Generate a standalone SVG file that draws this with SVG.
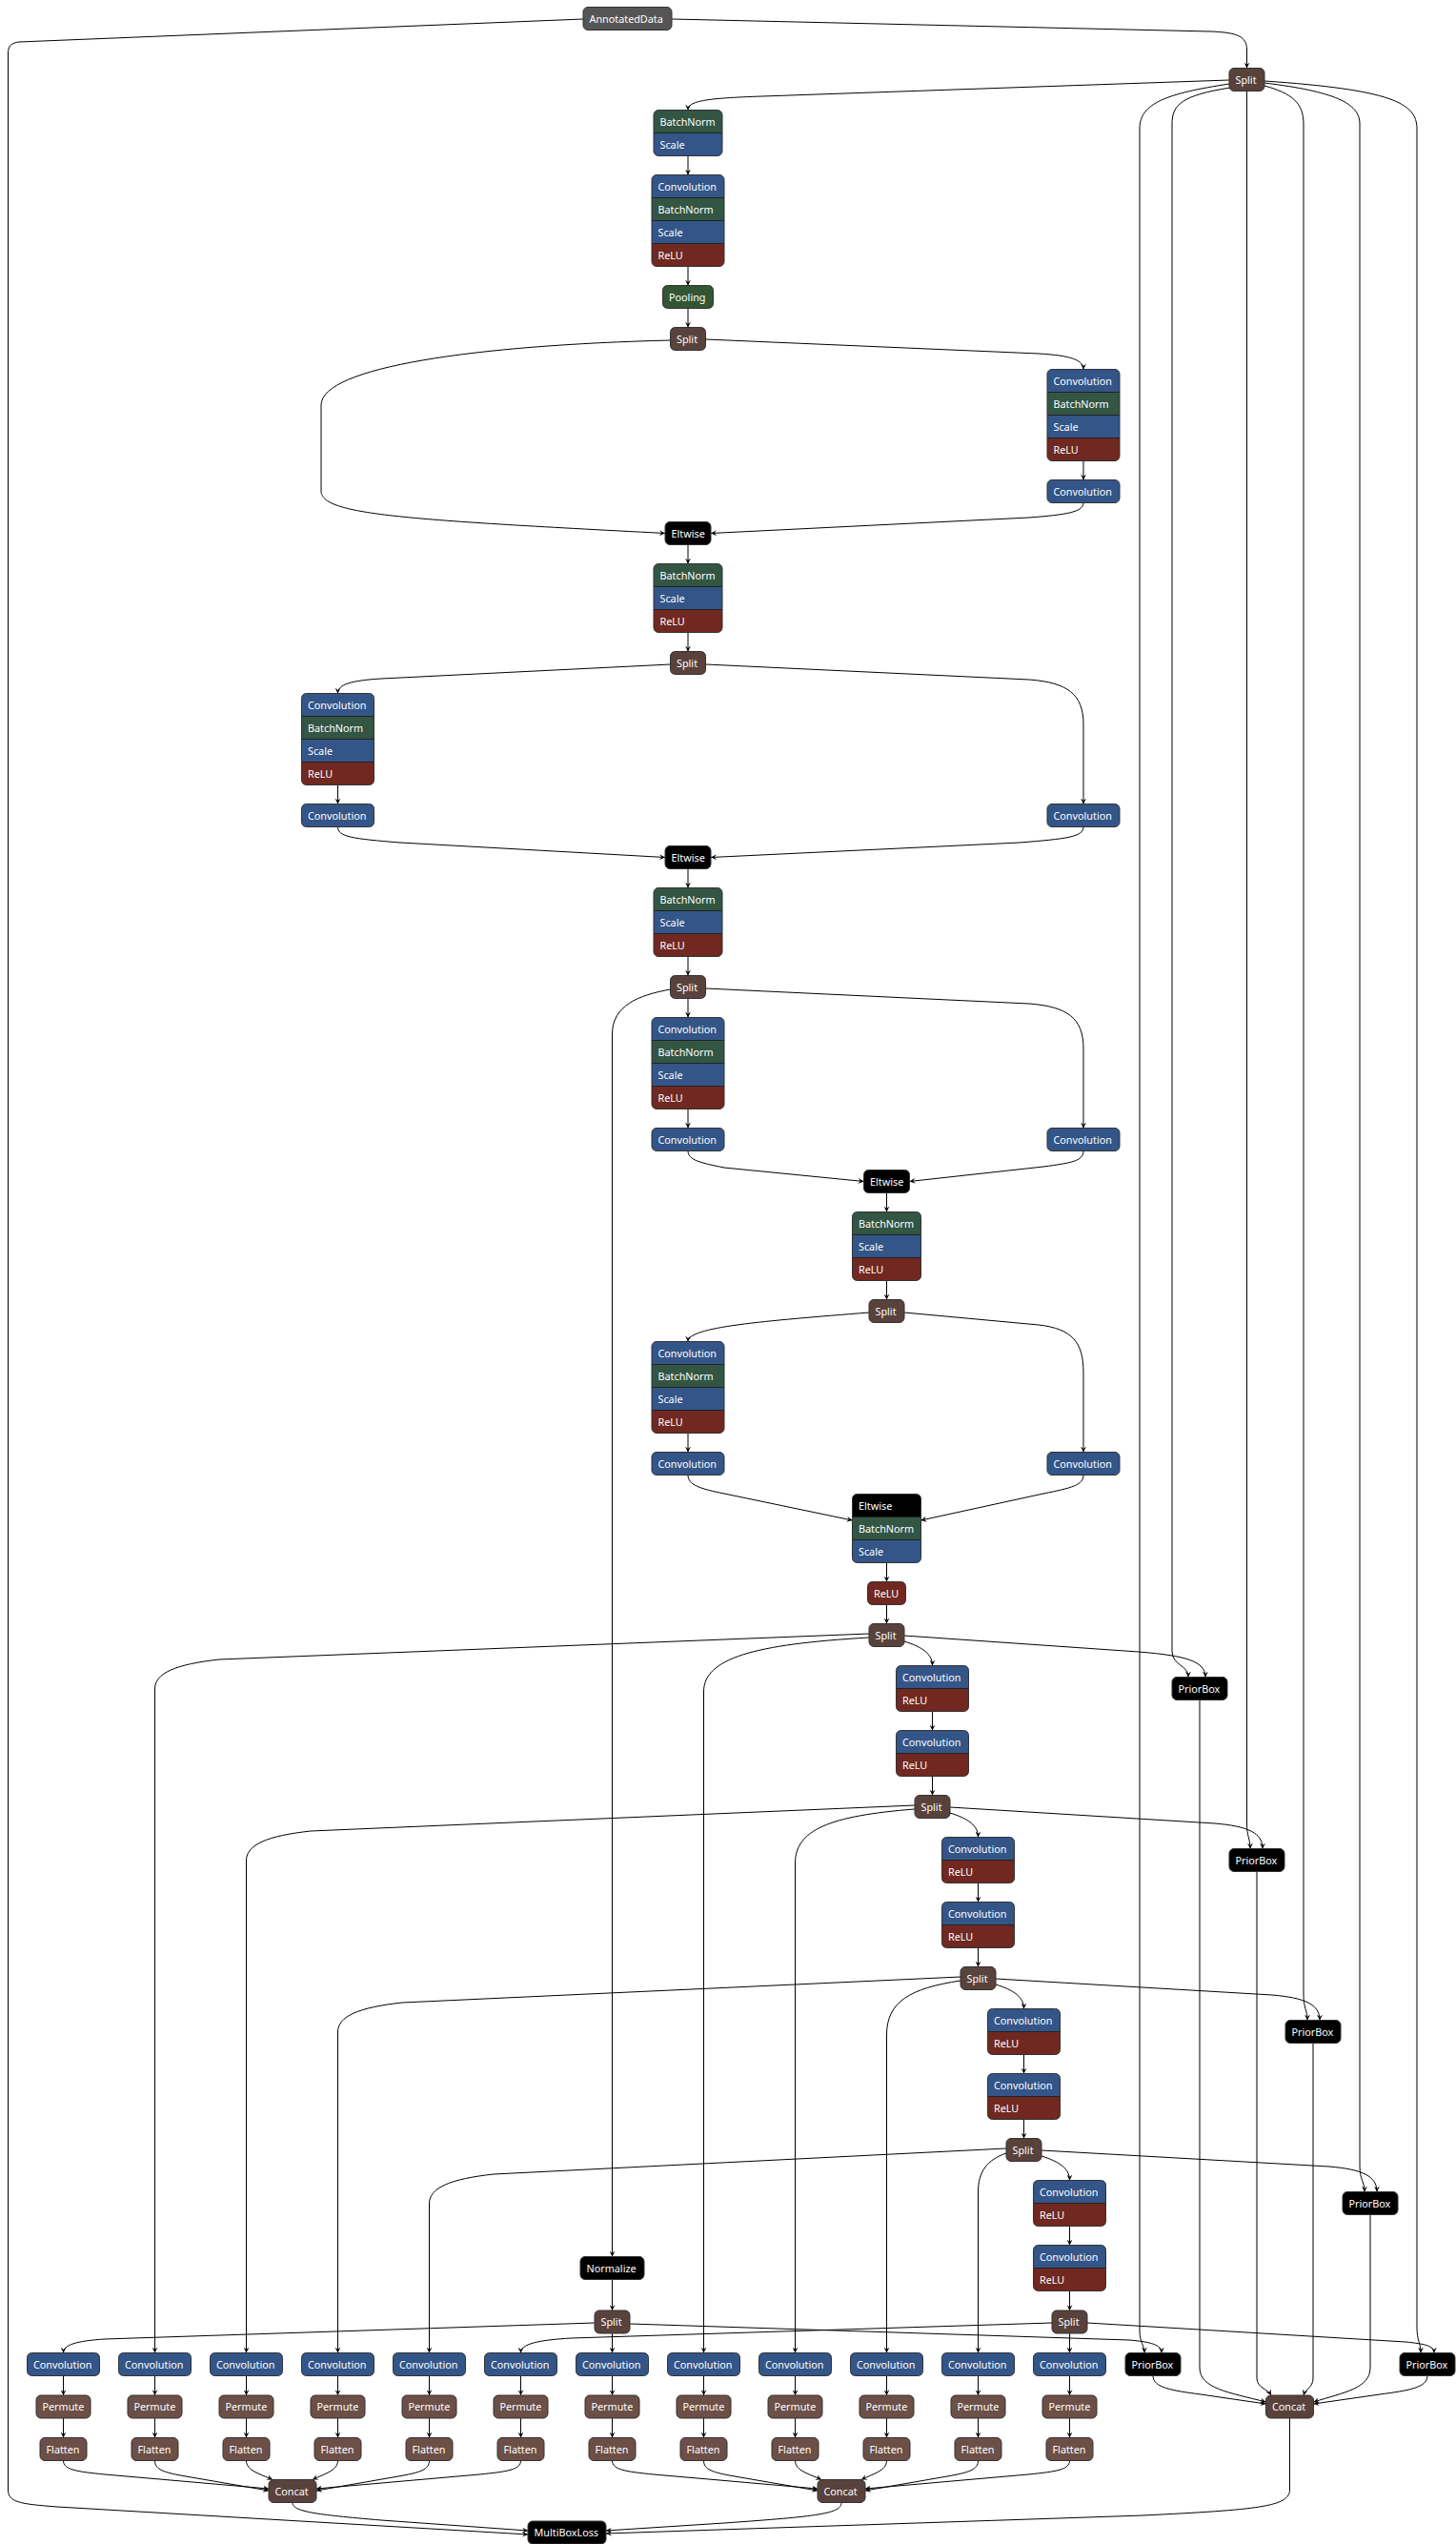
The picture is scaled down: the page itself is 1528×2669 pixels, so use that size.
<svg xmlns="http://www.w3.org/2000/svg" width="1528" height="2669" viewBox="0 0 1528 2669">
<style>
text{font-family:"Noto Sans","Liberation Sans",sans-serif;font-size:10.8px;fill:#fff}
.e{fill:none;stroke:#000;stroke-width:1;marker-end:url(#a)}
.o{fill:none;stroke:#333;stroke-width:1}
.sp{fill:none;stroke:#222;stroke-width:1}
.cv{fill:#335588}.bn{fill:#335544}.pl{fill:#335533}.rl{fill:#702820}.tn{fill:#59423b}.sh{fill:#6c4f47}.dt{fill:#555}.bk{fill:#000}
.n{stroke:#333;stroke-width:1}
</style>
<defs>
<marker id="a" viewBox="0 0 10 10" refX="10" refY="5" markerWidth="6" markerHeight="6" orient="auto" markerUnits="userSpaceOnUse"><path d="M0,0 L10,5 L0,10 L4,5 z" fill="#000"/></marker>
</defs>
<rect width="1528" height="2669" fill="#fff"/>

<g id="edges">
<path class="e" d="M705,20 L1270,33 C1298,34 1308.5,38 1308.5,52 L1308.5,71.5"/>
<path class="e" d="M612,20 L20,44 C12,45 8.5,48 8.5,56 L8.5,2612 C8.5,2625 20,2627 60,2630 L554,2659"/>
<path class="e" d="M1290,84 L800,101 C740,103 722,106 722,115.5"/>
<path class="e" d="M1290,88 C1225,98 1196,108 1196,135 L1196,2445 C1196,2458 1201,2460 1201,2468.5"/>
<path class="e" d="M1291,92 C1240,100 1230,110 1230,130 L1230,1732 C1230,1748 1247,1746 1247,1759.5"/>
<path class="e" d="M1308.5,95.5 L1308.5,1912 C1308.5,1928 1312,1928 1312,1939.5"/>
<path class="e" d="M1327,90 C1356,98 1368,108 1368,130 L1368,2092 C1368,2108 1372,2108 1372,2119.5"/>
<path class="e" d="M1327,87 C1400,96 1427,108 1427,130 L1427,2272 C1427,2288 1432,2288 1432,2299.5"/>
<path class="e" d="M1327,85 C1460,94 1487,108 1487,135 L1487,2442 C1487,2456 1491,2458 1491,2468.5"/>
<path class="e" d="M722,163.5 L722,183.5"/>
<path class="e" d="M722,279.5 L722,299.5"/>
<path class="e" d="M722,323.5 L722,343.5"/>
<path class="e" d="M740.5,356 L1090,371 C1125,373 1137,378 1137,387.5"/>
<path class="e" d="M703.5,357 C500,362 337,385 337,425 L337,515 C337,540 420,545 698,559.5"/>
<path class="e" d="M1137,483.5 L1137,503.5"/>
<path class="e" d="M1137,527.5 C1137,537 1120,540 1080,543 L746,559.5"/>
<path class="e" d="M722,571.5 L722,591.5"/>
<path class="e" d="M722,663.5 L722,683.5"/>
<path class="e" d="M703.5,697 L400,712 C368,714 354.5,718 354.5,727.5"/>
<path class="e" d="M740.5,697 L1080,713 C1120,716 1137,728 1137,760 L1137,843.5"/>
<path class="e" d="M354.5,823.5 L354.5,843.5"/>
<path class="e" d="M354.5,867.5 C354.5,878 370,880 420,884 L698,899.5"/>
<path class="e" d="M1137,867.5 C1137,878 1120,880 1070,884 L746,899.5"/>
<path class="e" d="M722,911.5 L722,931.5"/>
<path class="e" d="M722,1003.5 L722,1023.5"/>
<path class="e" d="M722,1047.5 L722,1067.5"/>
<path class="e" d="M740.5,1037 L1080,1053 C1120,1056 1137,1068 1137,1100 L1137,1183.5"/>
<path class="e" d="M703.5,1038 C670,1044 642.5,1055 642.5,1085 L642.5,2367.5"/>
<path class="e" d="M722,1163.5 L722,1183.5"/>
<path class="e" d="M722,1207.5 C722,1217 735,1220 760,1225 L906.5,1239.5"/>
<path class="e" d="M1137,1207.5 C1137,1218 1125,1220 1095,1224 L954.5,1239.5"/>
<path class="e" d="M930.5,1251.5 L930.5,1271.5"/>
<path class="e" d="M930.5,1343.5 L930.5,1363.5"/>
<path class="e" d="M912,1377 C800,1386 722,1392 722,1407.5"/>
<path class="e" d="M949,1377 L1090,1390 C1125,1394 1137,1408 1137,1440 L1137,1523.5"/>
<path class="e" d="M722,1503.5 L722,1523.5"/>
<path class="e" d="M722,1547.5 C722,1558 735,1562 760,1567 L894.5,1595"/>
<path class="e" d="M1137,1547.5 C1137,1558 1125,1561 1095,1567 L966.5,1595"/>
<path class="e" d="M930.5,1639.5 L930.5,1659.5"/>
<path class="e" d="M930.5,1683.5 L930.5,1703.5"/>
<path class="e" d="M949,1722 C968,1728 978.5,1735 978.5,1747.5"/>
<path class="e" d="M949,1716 L1195,1733 C1245,1737 1265,1743 1265,1759.5"/>
<path class="e" d="M912,1714 L230,1741 C185,1746 162.5,1755 162.5,1772 L162.5,2468.5"/>
<path class="e" d="M912,1718 C790,1725 738.5,1740 738.5,1775 L738.5,2468.5"/>
<path class="e" d="M978.5,1795.5 L978.5,1815.5"/>
<path class="e" d="M978.5,1863.5 L978.5,1883.5"/>
<path class="e" d="M997,1902 C1016,1908 1026.5,1915 1026.5,1927.5"/>
<path class="e" d="M997,1896 L1275,1913 C1310,1916 1325,1923 1325,1939.5"/>
<path class="e" d="M960,1894 L326,1921 C281,1926 258.5,1935 258.5,1952 L258.5,2468.5"/>
<path class="e" d="M960,1898 C870,1905 834.5,1920 834.5,1955 L834.5,2468.5"/>
<path class="e" d="M1026.5,1975.5 L1026.5,1995.5"/>
<path class="e" d="M1026.5,2043.5 L1026.5,2063.5"/>
<path class="e" d="M1045,2082 C1064,2088 1074.5,2095 1074.5,2107.5"/>
<path class="e" d="M1045,2076 L1335,2093 C1370,2096 1385,2103 1385,2119.5"/>
<path class="e" d="M1008,2074 L422,2101 C377,2106 354.5,2115 354.5,2132 L354.5,2468.5"/>
<path class="e" d="M1008,2078 C955,2086 930.5,2100 930.5,2135 L930.5,2468.5"/>
<path class="e" d="M1074.5,2155.5 L1074.5,2175.5"/>
<path class="e" d="M1074.5,2223.5 L1074.5,2243.5"/>
<path class="e" d="M1093,2262 C1112,2268 1122.5,2275 1122.5,2287.5"/>
<path class="e" d="M1093,2256 L1395,2273 C1430,2276 1445,2283 1445,2299.5"/>
<path class="e" d="M1056,2254 L518,2281 C473,2286 450.5,2295 450.5,2312 L450.5,2468.5"/>
<path class="e" d="M1056,2259 C1036,2266 1026.5,2278 1026.5,2300 L1026.5,2468.5"/>
<path class="e" d="M1122.5,2335.5 L1122.5,2355.5"/>
<path class="e" d="M1122.5,2403.5 L1122.5,2424"/>
<path class="e" d="M1122.5,2448 L1122.5,2468.5"/>
<path class="e" d="M1141,2437 L1475,2457 C1495,2459 1505,2461 1505,2468.5"/>
<path class="e" d="M1104,2437 L600,2453 C565,2455 546.5,2459 546.5,2468.5"/>
<path class="e" d="M642.5,2391.5 L642.5,2424"/>
<path class="e" d="M642.5,2448 L642.5,2468.5"/>
<path class="e" d="M624,2437 L110,2454 C80,2456 66.5,2460 66.5,2468.5"/>
<path class="e" d="M661,2438 L1185,2455 C1208,2457 1219,2460 1219,2468.5"/>
<path class="e" d="M1259,1783.5 L1259,2484 C1259,2506 1290,2510 1328.5,2520"/>
<path class="e" d="M1319,1963.5 L1319,2495 C1319,2505 1330,2506 1334,2513"/>
<path class="e" d="M1378,2143.5 L1378,2495 C1378,2505 1370,2506 1368,2513"/>
<path class="e" d="M1438,2323.5 L1438,2484 C1438,2506 1410,2510 1378.5,2520"/>
<path class="e" d="M1210,2492.5 C1210,2505 1230,2508 1260,2512 L1328.5,2522"/>
<path class="e" d="M1498,2492.5 C1498,2505 1478,2508 1448,2512 L1378.5,2522"/>
<path class="e" d="M1353.5,2537 L1353.5,2612 C1353.5,2630 1320,2633 1200,2639 L636,2658"/>
<path class="e" d="M66.5,2492.5 L66.5,2513"/><path class="e" d="M66.5,2537 L66.5,2557.5"/>
<path class="e" d="M162.5,2492.5 L162.5,2513"/><path class="e" d="M162.5,2537 L162.5,2557.5"/>
<path class="e" d="M258.5,2492.5 L258.5,2513"/><path class="e" d="M258.5,2537 L258.5,2557.5"/>
<path class="e" d="M354.5,2492.5 L354.5,2513"/><path class="e" d="M354.5,2537 L354.5,2557.5"/>
<path class="e" d="M450.5,2492.5 L450.5,2513"/><path class="e" d="M450.5,2537 L450.5,2557.5"/>
<path class="e" d="M546.5,2492.5 L546.5,2513"/><path class="e" d="M546.5,2537 L546.5,2557.5"/>
<path class="e" d="M642.5,2492.5 L642.5,2513"/><path class="e" d="M642.5,2537 L642.5,2557.5"/>
<path class="e" d="M738.5,2492.5 L738.5,2513"/><path class="e" d="M738.5,2537 L738.5,2557.5"/>
<path class="e" d="M834.5,2492.5 L834.5,2513"/><path class="e" d="M834.5,2537 L834.5,2557.5"/>
<path class="e" d="M930.5,2492.5 L930.5,2513"/><path class="e" d="M930.5,2537 L930.5,2557.5"/>
<path class="e" d="M1026.5,2492.5 L1026.5,2513"/><path class="e" d="M1026.5,2537 L1026.5,2557.5"/>
<path class="e" d="M1122.5,2492.5 L1122.5,2513"/><path class="e" d="M1122.5,2537 L1122.5,2557.5"/>
<path class="e" d="M66.5,2581.5 C66.5,2591 80,2593 110,2596 L282,2611"/>
<path class="e" d="M162.5,2581.5 C162.5,2591 172,2594 195,2598 L282,2613"/>
<path class="e" d="M258.5,2581.5 C258.5,2592 272,2595 286,2601.5"/>
<path class="e" d="M354.5,2581.5 C354.5,2592 341,2595 328,2601.5"/>
<path class="e" d="M450.5,2581.5 C450.5,2591 441,2594 418,2598 L332,2613"/>
<path class="e" d="M546.5,2581.5 C546.5,2591 533,2593 503,2596 L332,2611"/>
<path class="e" d="M642.5,2581.5 C642.5,2591 656,2593 686,2596 L858,2611"/>
<path class="e" d="M738.5,2581.5 C738.5,2591 748,2594 771,2598 L858,2613"/>
<path class="e" d="M834.5,2581.5 C834.5,2592 848,2595 862,2601.5"/>
<path class="e" d="M930.5,2581.5 C930.5,2592 917,2595 904,2601.5"/>
<path class="e" d="M1026.5,2581.5 C1026.5,2591 1017,2594 994,2598 L908,2613"/>
<path class="e" d="M1122.5,2581.5 C1122.5,2591 1109,2593 1079,2596 L908,2611"/>
<path class="e" d="M307,2625.5 C307,2635 330,2638 400,2644 L554,2655"/>
<path class="e" d="M883,2625.5 C883,2637 860,2640 760,2647 L636,2655"/>
</g>

<g id="n_annotateddata"><rect class="dt n" x="612" y="7.5" width="93" height="24" rx="5"/><text x="618.5" y="23.5">AnnotatedData</text></g>
<g id="n_split0"><rect class="tn n" x="1290" y="71.5" width="37" height="24" rx="5"/><text x="1296.5" y="87.5">Split</text></g>
<g id="n_bn_scale0">
<rect class="bn" x="686" y="115.5" width="72" height="24" rx="5"/><rect class="bn" x="686" y="127.5" width="72" height="12"/>
<rect class="cv" x="686" y="139.5" width="72" height="24" rx="5"/><rect class="cv" x="686" y="139.5" width="72" height="12"/>
<path class="sp" d="M686,139.5h72"/><rect class="o" x="686" y="115.5" width="72" height="48" rx="5"/>
<text x="692.5" y="131.5">BatchNorm</text><text x="692.5" y="155.5">Scale</text></g>
<g id="n_conv_stack0">
<rect class="cv" x="684" y="183.5" width="76" height="24" rx="5"/><rect class="cv" x="684" y="195.5" width="76" height="12"/>
<rect class="bn" x="684" y="207.5" width="76" height="24"/><rect class="cv" x="684" y="231.5" width="76" height="24"/>
<rect class="rl" x="684" y="255.5" width="76" height="24" rx="5"/><rect class="rl" x="684" y="255.5" width="76" height="12"/>
<path class="sp" d="M684,207.5h76M684,231.5h76M684,255.5h76"/><rect class="o" x="684" y="183.5" width="76" height="96" rx="5"/>
<text x="690.5" y="199.5">Convolution</text><text x="690.5" y="223.5">BatchNorm</text><text x="690.5" y="247.5">Scale</text><text x="690.5" y="271.5">ReLU</text></g>
<g id="n_pooling"><rect class="pl n" x="695.5" y="299.5" width="53" height="24" rx="5"/><text x="702" y="315.5">Pooling</text></g>
<g id="n_split1"><rect class="tn n" x="703.5" y="343.5" width="37" height="24" rx="5"/><text x="710" y="359.5">Split</text></g>
<g id="n_conv_stack1">
<rect class="cv" x="1099" y="387.5" width="76" height="24" rx="5"/><rect class="cv" x="1099" y="399.5" width="76" height="12"/>
<rect class="bn" x="1099" y="411.5" width="76" height="24"/><rect class="cv" x="1099" y="435.5" width="76" height="24"/>
<rect class="rl" x="1099" y="459.5" width="76" height="24" rx="5"/><rect class="rl" x="1099" y="459.5" width="76" height="12"/>
<path class="sp" d="M1099,411.5h76M1099,435.5h76M1099,459.5h76"/><rect class="o" x="1099" y="387.5" width="76" height="96" rx="5"/>
<text x="1105.5" y="403.5">Convolution</text><text x="1105.5" y="427.5">BatchNorm</text><text x="1105.5" y="451.5">Scale</text><text x="1105.5" y="475.5">ReLU</text></g>
<g id="n_conv1"><rect class="cv n" x="1099" y="503.5" width="76" height="24" rx="5"/><text x="1105.5" y="519.5">Convolution</text></g>
<g id="n_eltwise1"><rect class="bk n" x="698" y="547.5" width="48" height="24" rx="5"/><text x="704.5" y="563.5">Eltwise</text></g>
<g id="n_bn_stack1">
<rect class="bn" x="686" y="591.5" width="72" height="24" rx="5"/><rect class="bn" x="686" y="603.5" width="72" height="12"/>
<rect class="cv" x="686" y="615.5" width="72" height="24"/>
<rect class="rl" x="686" y="639.5" width="72" height="24" rx="5"/><rect class="rl" x="686" y="639.5" width="72" height="12"/>
<path class="sp" d="M686,615.5h72M686,639.5h72"/><rect class="o" x="686" y="591.5" width="72" height="72" rx="5"/>
<text x="692.5" y="607.5">BatchNorm</text><text x="692.5" y="631.5">Scale</text><text x="692.5" y="655.5">ReLU</text></g>
<g id="n_split2"><rect class="tn n" x="703.5" y="683.5" width="37" height="24" rx="5"/><text x="710" y="699.5">Split</text></g>
<g id="n_conv_stack2">
<rect class="cv" x="316.5" y="727.5" width="76" height="24" rx="5"/><rect class="cv" x="316.5" y="739.5" width="76" height="12"/>
<rect class="bn" x="316.5" y="751.5" width="76" height="24"/><rect class="cv" x="316.5" y="775.5" width="76" height="24"/>
<rect class="rl" x="316.5" y="799.5" width="76" height="24" rx="5"/><rect class="rl" x="316.5" y="799.5" width="76" height="12"/>
<path class="sp" d="M316.5,751.5h76M316.5,775.5h76M316.5,799.5h76"/><rect class="o" x="316.5" y="727.5" width="76" height="96" rx="5"/>
<text x="323" y="743.5">Convolution</text><text x="323" y="767.5">BatchNorm</text><text x="323" y="791.5">Scale</text><text x="323" y="815.5">ReLU</text></g>
<g id="n_conv2a"><rect class="cv n" x="316.5" y="843.5" width="76" height="24" rx="5"/><text x="323" y="859.5">Convolution</text></g>
<g id="n_conv2b"><rect class="cv n" x="1099" y="843.5" width="76" height="24" rx="5"/><text x="1105.5" y="859.5">Convolution</text></g>
<g id="n_eltwise2"><rect class="bk n" x="698" y="887.5" width="48" height="24" rx="5"/><text x="704.5" y="903.5">Eltwise</text></g>
<g id="n_bn_stack2">
<rect class="bn" x="686" y="931.5" width="72" height="24" rx="5"/><rect class="bn" x="686" y="943.5" width="72" height="12"/>
<rect class="cv" x="686" y="955.5" width="72" height="24"/>
<rect class="rl" x="686" y="979.5" width="72" height="24" rx="5"/><rect class="rl" x="686" y="979.5" width="72" height="12"/>
<path class="sp" d="M686,955.5h72M686,979.5h72"/><rect class="o" x="686" y="931.5" width="72" height="72" rx="5"/>
<text x="692.5" y="947.5">BatchNorm</text><text x="692.5" y="971.5">Scale</text><text x="692.5" y="995.5">ReLU</text></g>
<g id="n_split3"><rect class="tn n" x="703.5" y="1023.5" width="37" height="24" rx="5"/><text x="710" y="1039.5">Split</text></g>
<g id="n_conv_stack3">
<rect class="cv" x="684" y="1067.5" width="76" height="24" rx="5"/><rect class="cv" x="684" y="1079.5" width="76" height="12"/>
<rect class="bn" x="684" y="1091.5" width="76" height="24"/><rect class="cv" x="684" y="1115.5" width="76" height="24"/>
<rect class="rl" x="684" y="1139.5" width="76" height="24" rx="5"/><rect class="rl" x="684" y="1139.5" width="76" height="12"/>
<path class="sp" d="M684,1091.5h76M684,1115.5h76M684,1139.5h76"/><rect class="o" x="684" y="1067.5" width="76" height="96" rx="5"/>
<text x="690.5" y="1083.5">Convolution</text><text x="690.5" y="1107.5">BatchNorm</text><text x="690.5" y="1131.5">Scale</text><text x="690.5" y="1155.5">ReLU</text></g>
<g id="n_conv3a"><rect class="cv n" x="684" y="1183.5" width="76" height="24" rx="5"/><text x="690.5" y="1199.5">Convolution</text></g>
<g id="n_conv3b"><rect class="cv n" x="1099" y="1183.5" width="76" height="24" rx="5"/><text x="1105.5" y="1199.5">Convolution</text></g>
<g id="n_eltwise3"><rect class="bk n" x="906.5" y="1227.5" width="48" height="24" rx="5"/><text x="913" y="1243.5">Eltwise</text></g>
<g id="n_bn_stack3">
<rect class="bn" x="894.5" y="1271.5" width="72" height="24" rx="5"/><rect class="bn" x="894.5" y="1283.5" width="72" height="12"/>
<rect class="cv" x="894.5" y="1295.5" width="72" height="24"/>
<rect class="rl" x="894.5" y="1319.5" width="72" height="24" rx="5"/><rect class="rl" x="894.5" y="1319.5" width="72" height="12"/>
<path class="sp" d="M894.5,1295.5h72M894.5,1319.5h72"/><rect class="o" x="894.5" y="1271.5" width="72" height="72" rx="5"/>
<text x="901" y="1287.5">BatchNorm</text><text x="901" y="1311.5">Scale</text><text x="901" y="1335.5">ReLU</text></g>
<g id="n_split4"><rect class="tn n" x="912" y="1363.5" width="37" height="24" rx="5"/><text x="918.5" y="1379.5">Split</text></g>
<g id="n_conv_stack4">
<rect class="cv" x="684" y="1407.5" width="76" height="24" rx="5"/><rect class="cv" x="684" y="1419.5" width="76" height="12"/>
<rect class="bn" x="684" y="1431.5" width="76" height="24"/><rect class="cv" x="684" y="1455.5" width="76" height="24"/>
<rect class="rl" x="684" y="1479.5" width="76" height="24" rx="5"/><rect class="rl" x="684" y="1479.5" width="76" height="12"/>
<path class="sp" d="M684,1431.5h76M684,1455.5h76M684,1479.5h76"/><rect class="o" x="684" y="1407.5" width="76" height="96" rx="5"/>
<text x="690.5" y="1423.5">Convolution</text><text x="690.5" y="1447.5">BatchNorm</text><text x="690.5" y="1471.5">Scale</text><text x="690.5" y="1495.5">ReLU</text></g>
<g id="n_conv4a"><rect class="cv n" x="684" y="1523.5" width="76" height="24" rx="5"/><text x="690.5" y="1539.5">Convolution</text></g>
<g id="n_conv4b"><rect class="cv n" x="1099" y="1523.5" width="76" height="24" rx="5"/><text x="1105.5" y="1539.5">Convolution</text></g>
<g id="n_eltwise_stack4">
<rect class="bk" x="894.5" y="1567.5" width="72" height="24" rx="5"/><rect class="bk" x="894.5" y="1579.5" width="72" height="12"/>
<rect class="bn" x="894.5" y="1591.5" width="72" height="24"/>
<rect class="cv" x="894.5" y="1615.5" width="72" height="24" rx="5"/><rect class="cv" x="894.5" y="1615.5" width="72" height="12"/>
<path class="sp" d="M894.5,1591.5h72M894.5,1615.5h72"/><rect class="o" x="894.5" y="1567.5" width="72" height="72" rx="5"/>
<text x="901" y="1583.5">Eltwise</text><text x="901" y="1607.5">BatchNorm</text><text x="901" y="1631.5">Scale</text></g>
<g id="n_relu4"><rect class="rl n" x="910.5" y="1659.5" width="40" height="24" rx="5"/><text x="917" y="1675.5">ReLU</text></g>
<g id="n_split5"><rect class="tn n" x="912" y="1703.5" width="37" height="24" rx="5"/><text x="918.5" y="1719.5">Split</text></g>
<g id="n_cr1a"><rect class="cv" x="940.5" y="1747.5" width="76" height="24" rx="5"/><rect class="cv" x="940.5" y="1759.5" width="76" height="12"/><rect class="rl" x="940.5" y="1771.5" width="76" height="24" rx="5"/><rect class="rl" x="940.5" y="1771.5" width="76" height="12"/><path class="sp" d="M940.5,1771.5h76"/><rect class="o" x="940.5" y="1747.5" width="76" height="48" rx="5"/><text x="947" y="1763.5">Convolution</text><text x="947" y="1787.5">ReLU</text></g>
<g id="n_cr1b"><rect class="cv" x="940.5" y="1815.5" width="76" height="24" rx="5"/><rect class="cv" x="940.5" y="1827.5" width="76" height="12"/><rect class="rl" x="940.5" y="1839.5" width="76" height="24" rx="5"/><rect class="rl" x="940.5" y="1839.5" width="76" height="12"/><path class="sp" d="M940.5,1839.5h76"/><rect class="o" x="940.5" y="1815.5" width="76" height="48" rx="5"/><text x="947" y="1831.5">Convolution</text><text x="947" y="1855.5">ReLU</text></g>
<g id="n_split6"><rect class="tn n" x="960" y="1883.5" width="37" height="24" rx="5"/><text x="966.5" y="1899.5">Split</text></g>
<g id="n_cr2a"><rect class="cv" x="988.5" y="1927.5" width="76" height="24" rx="5"/><rect class="cv" x="988.5" y="1939.5" width="76" height="12"/><rect class="rl" x="988.5" y="1951.5" width="76" height="24" rx="5"/><rect class="rl" x="988.5" y="1951.5" width="76" height="12"/><path class="sp" d="M988.5,1951.5h76"/><rect class="o" x="988.5" y="1927.5" width="76" height="48" rx="5"/><text x="995" y="1943.5">Convolution</text><text x="995" y="1967.5">ReLU</text></g>
<g id="n_cr2b"><rect class="cv" x="988.5" y="1995.5" width="76" height="24" rx="5"/><rect class="cv" x="988.5" y="2007.5" width="76" height="12"/><rect class="rl" x="988.5" y="2019.5" width="76" height="24" rx="5"/><rect class="rl" x="988.5" y="2019.5" width="76" height="12"/><path class="sp" d="M988.5,2019.5h76"/><rect class="o" x="988.5" y="1995.5" width="76" height="48" rx="5"/><text x="995" y="2011.5">Convolution</text><text x="995" y="2035.5">ReLU</text></g>
<g id="n_split7"><rect class="tn n" x="1008" y="2063.5" width="37" height="24" rx="5"/><text x="1014.5" y="2079.5">Split</text></g>
<g id="n_cr3a"><rect class="cv" x="1036.5" y="2107.5" width="76" height="24" rx="5"/><rect class="cv" x="1036.5" y="2119.5" width="76" height="12"/><rect class="rl" x="1036.5" y="2131.5" width="76" height="24" rx="5"/><rect class="rl" x="1036.5" y="2131.5" width="76" height="12"/><path class="sp" d="M1036.5,2131.5h76"/><rect class="o" x="1036.5" y="2107.5" width="76" height="48" rx="5"/><text x="1043" y="2123.5">Convolution</text><text x="1043" y="2147.5">ReLU</text></g>
<g id="n_cr3b"><rect class="cv" x="1036.5" y="2175.5" width="76" height="24" rx="5"/><rect class="cv" x="1036.5" y="2187.5" width="76" height="12"/><rect class="rl" x="1036.5" y="2199.5" width="76" height="24" rx="5"/><rect class="rl" x="1036.5" y="2199.5" width="76" height="12"/><path class="sp" d="M1036.5,2199.5h76"/><rect class="o" x="1036.5" y="2175.5" width="76" height="48" rx="5"/><text x="1043" y="2191.5">Convolution</text><text x="1043" y="2215.5">ReLU</text></g>
<g id="n_split8"><rect class="tn n" x="1056" y="2243.5" width="37" height="24" rx="5"/><text x="1062.5" y="2259.5">Split</text></g>
<g id="n_cr4a"><rect class="cv" x="1084.5" y="2287.5" width="76" height="24" rx="5"/><rect class="cv" x="1084.5" y="2299.5" width="76" height="12"/><rect class="rl" x="1084.5" y="2311.5" width="76" height="24" rx="5"/><rect class="rl" x="1084.5" y="2311.5" width="76" height="12"/><path class="sp" d="M1084.5,2311.5h76"/><rect class="o" x="1084.5" y="2287.5" width="76" height="48" rx="5"/><text x="1091" y="2303.5">Convolution</text><text x="1091" y="2327.5">ReLU</text></g>
<g id="n_cr4b"><rect class="cv" x="1084.5" y="2355.5" width="76" height="24" rx="5"/><rect class="cv" x="1084.5" y="2367.5" width="76" height="12"/><rect class="rl" x="1084.5" y="2379.5" width="76" height="24" rx="5"/><rect class="rl" x="1084.5" y="2379.5" width="76" height="12"/><path class="sp" d="M1084.5,2379.5h76"/><rect class="o" x="1084.5" y="2355.5" width="76" height="48" rx="5"/><text x="1091" y="2371.5">Convolution</text><text x="1091" y="2395.5">ReLU</text></g>
<g id="n_split9"><rect class="tn n" x="1104" y="2424" width="37" height="24" rx="5"/><text x="1110.5" y="2440">Split</text></g>
<g id="n_normalize"><rect class="bk n" x="609" y="2367.5" width="67" height="24" rx="5"/><text x="615.5" y="2383.5">Normalize</text></g>
<g id="n_splitn"><rect class="tn n" x="624" y="2424" width="37" height="24" rx="5"/><text x="630.5" y="2440">Split</text></g>
<g id="n_priorbox1"><rect class="bk n" x="1230" y="1759.5" width="58" height="24" rx="5"/><text x="1236.5" y="1775.5">PriorBox</text></g>
<g id="n_priorbox2"><rect class="bk n" x="1290" y="1939.5" width="58" height="24" rx="5"/><text x="1296.5" y="1955.5">PriorBox</text></g>
<g id="n_priorbox3"><rect class="bk n" x="1349" y="2119.5" width="58" height="24" rx="5"/><text x="1355.5" y="2135.5">PriorBox</text></g>
<g id="n_priorbox4"><rect class="bk n" x="1409" y="2299.5" width="58" height="24" rx="5"/><text x="1415.5" y="2315.5">PriorBox</text></g>
<g id="n_priorbox5"><rect class="bk n" x="1181" y="2468.5" width="58" height="24" rx="5"/><text x="1187.5" y="2484.5">PriorBox</text></g>
<g id="n_priorbox6"><rect class="bk n" x="1469" y="2468.5" width="58" height="24" rx="5"/><text x="1475.5" y="2484.5">PriorBox</text></g>
<g id="n_concat_r"><rect class="tn n" x="1328.5" y="2513" width="50" height="24" rx="5"/><text x="1335" y="2529">Concat</text></g>

<g id="n_head_conv0"><rect class="cv n" x="28.5" y="2468.5" width="76" height="24" rx="5"/><text x="35" y="2484.5">Convolution</text></g>
<g id="n_head_conv1"><rect class="cv n" x="124.5" y="2468.5" width="76" height="24" rx="5"/><text x="131" y="2484.5">Convolution</text></g>
<g id="n_head_conv2"><rect class="cv n" x="220.5" y="2468.5" width="76" height="24" rx="5"/><text x="227" y="2484.5">Convolution</text></g>
<g id="n_head_conv3"><rect class="cv n" x="316.5" y="2468.5" width="76" height="24" rx="5"/><text x="323" y="2484.5">Convolution</text></g>
<g id="n_head_conv4"><rect class="cv n" x="412.5" y="2468.5" width="76" height="24" rx="5"/><text x="419" y="2484.5">Convolution</text></g>
<g id="n_head_conv5"><rect class="cv n" x="508.5" y="2468.5" width="76" height="24" rx="5"/><text x="515" y="2484.5">Convolution</text></g>
<g id="n_head_conv6"><rect class="cv n" x="604.5" y="2468.5" width="76" height="24" rx="5"/><text x="611" y="2484.5">Convolution</text></g>
<g id="n_head_conv7"><rect class="cv n" x="700.5" y="2468.5" width="76" height="24" rx="5"/><text x="707" y="2484.5">Convolution</text></g>
<g id="n_head_conv8"><rect class="cv n" x="796.5" y="2468.5" width="76" height="24" rx="5"/><text x="803" y="2484.5">Convolution</text></g>
<g id="n_head_conv9"><rect class="cv n" x="892.5" y="2468.5" width="76" height="24" rx="5"/><text x="899" y="2484.5">Convolution</text></g>
<g id="n_head_conv10"><rect class="cv n" x="988.5" y="2468.5" width="76" height="24" rx="5"/><text x="995" y="2484.5">Convolution</text></g>
<g id="n_head_conv11"><rect class="cv n" x="1084.5" y="2468.5" width="76" height="24" rx="5"/><text x="1091" y="2484.5">Convolution</text></g>

<g id="n_permute0"><rect class="sh n" x="38" y="2513" width="57" height="24" rx="5"/><text x="44.5" y="2529">Permute</text></g>
<g id="n_permute1"><rect class="sh n" x="134" y="2513" width="57" height="24" rx="5"/><text x="140.5" y="2529">Permute</text></g>
<g id="n_permute2"><rect class="sh n" x="230" y="2513" width="57" height="24" rx="5"/><text x="236.5" y="2529">Permute</text></g>
<g id="n_permute3"><rect class="sh n" x="326" y="2513" width="57" height="24" rx="5"/><text x="332.5" y="2529">Permute</text></g>
<g id="n_permute4"><rect class="sh n" x="422" y="2513" width="57" height="24" rx="5"/><text x="428.5" y="2529">Permute</text></g>
<g id="n_permute5"><rect class="sh n" x="518" y="2513" width="57" height="24" rx="5"/><text x="524.5" y="2529">Permute</text></g>
<g id="n_permute6"><rect class="sh n" x="614" y="2513" width="57" height="24" rx="5"/><text x="620.5" y="2529">Permute</text></g>
<g id="n_permute7"><rect class="sh n" x="710" y="2513" width="57" height="24" rx="5"/><text x="716.5" y="2529">Permute</text></g>
<g id="n_permute8"><rect class="sh n" x="806" y="2513" width="57" height="24" rx="5"/><text x="812.5" y="2529">Permute</text></g>
<g id="n_permute9"><rect class="sh n" x="902" y="2513" width="57" height="24" rx="5"/><text x="908.5" y="2529">Permute</text></g>
<g id="n_permute10"><rect class="sh n" x="998" y="2513" width="57" height="24" rx="5"/><text x="1004.5" y="2529">Permute</text></g>
<g id="n_permute11"><rect class="sh n" x="1094" y="2513" width="57" height="24" rx="5"/><text x="1100.5" y="2529">Permute</text></g>

<g id="n_flatten0"><rect class="sh n" x="42" y="2557.5" width="49" height="24" rx="5"/><text x="48.5" y="2573.5">Flatten</text></g>
<g id="n_flatten1"><rect class="sh n" x="138" y="2557.5" width="49" height="24" rx="5"/><text x="144.5" y="2573.5">Flatten</text></g>
<g id="n_flatten2"><rect class="sh n" x="234" y="2557.5" width="49" height="24" rx="5"/><text x="240.5" y="2573.5">Flatten</text></g>
<g id="n_flatten3"><rect class="sh n" x="330" y="2557.5" width="49" height="24" rx="5"/><text x="336.5" y="2573.5">Flatten</text></g>
<g id="n_flatten4"><rect class="sh n" x="426" y="2557.5" width="49" height="24" rx="5"/><text x="432.5" y="2573.5">Flatten</text></g>
<g id="n_flatten5"><rect class="sh n" x="522" y="2557.5" width="49" height="24" rx="5"/><text x="528.5" y="2573.5">Flatten</text></g>
<g id="n_flatten6"><rect class="sh n" x="618" y="2557.5" width="49" height="24" rx="5"/><text x="624.5" y="2573.5">Flatten</text></g>
<g id="n_flatten7"><rect class="sh n" x="714" y="2557.5" width="49" height="24" rx="5"/><text x="720.5" y="2573.5">Flatten</text></g>
<g id="n_flatten8"><rect class="sh n" x="810" y="2557.5" width="49" height="24" rx="5"/><text x="816.5" y="2573.5">Flatten</text></g>
<g id="n_flatten9"><rect class="sh n" x="906" y="2557.5" width="49" height="24" rx="5"/><text x="912.5" y="2573.5">Flatten</text></g>
<g id="n_flatten10"><rect class="sh n" x="1002" y="2557.5" width="49" height="24" rx="5"/><text x="1008.5" y="2573.5">Flatten</text></g>
<g id="n_flatten11"><rect class="sh n" x="1098" y="2557.5" width="49" height="24" rx="5"/><text x="1104.5" y="2573.5">Flatten</text></g>

<g id="n_concat_l"><rect class="tn n" x="282" y="2601.5" width="50" height="24" rx="5"/><text x="288.5" y="2617.5">Concat</text></g>
<g id="n_concat_m"><rect class="tn n" x="858" y="2601.5" width="50" height="24" rx="5"/><text x="864.5" y="2617.5">Concat</text></g>
<g id="n_multiboxloss"><rect class="bk n" x="554" y="2645" width="82" height="24" rx="5"/><text x="560.5" y="2661">MultiBoxLoss</text></g>
</svg>
